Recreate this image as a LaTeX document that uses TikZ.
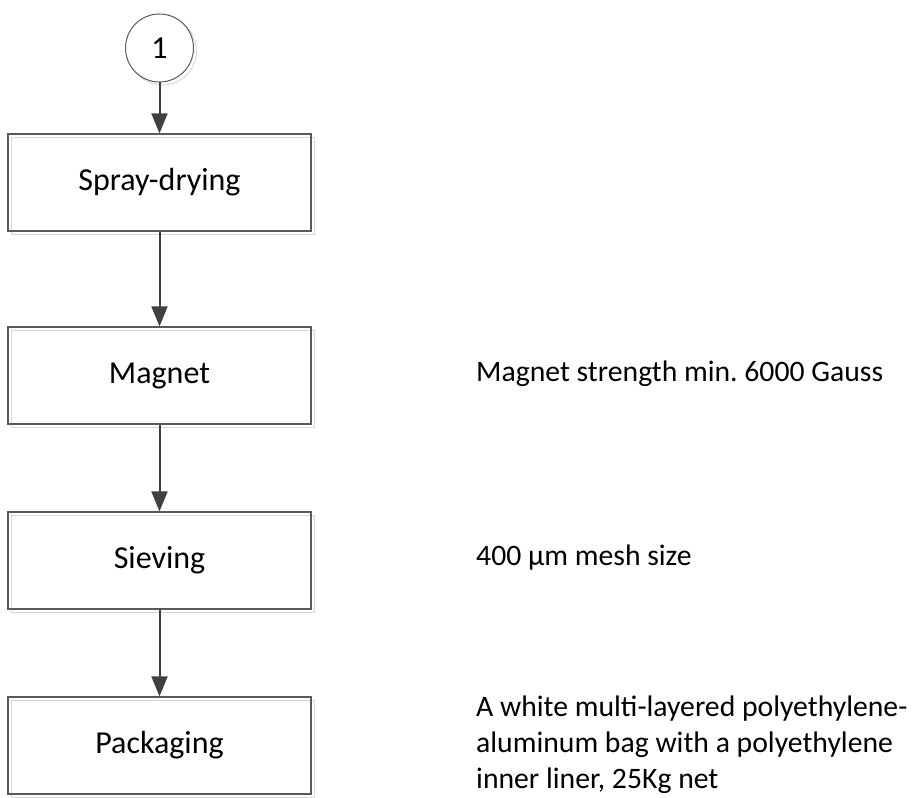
\documentclass[tikz,border=0pt]{standalone}
\usepackage{fontspec}
\setmainfont{Carlito}
\usetikzlibrary{arrows.meta}
\definecolor{linegray}{HTML}{404040}
\definecolor{boxgray}{HTML}{5A5A5A}
\definecolor{shadowgray}{HTML}{D9D9D9}
\tikzset{
  stepbox/.style={draw=boxgray, line width=1.2pt, minimum width=303pt, minimum height=97pt, inner sep=0pt, font=\fontsize{32}{38}\selectfont},
  shadowbox/.style={draw=shadowgray, line width=1pt, minimum width=303pt, minimum height=97pt, inner sep=0pt},
  conn/.style={draw=linegray, line width=2pt, -{Triangle[length=20pt,width=16pt]}},
  note/.style={anchor=base west, inner sep=0pt, font=\fontsize{29.7}{36}\selectfont, align=left},
}
\begin{document}
\frenchspacing
\begin{tikzpicture}[x=1pt,y=-1pt]
\useasboundingbox (0,0) rectangle (912,797);
% shadows
\draw[shadowgray, line width=1pt] (162.5,51) circle (34);
\node[shadowbox] at (162.5,185.5) {};
\node[shadowbox] at (162.5,378.5) {};
\node[shadowbox] at (162.5,563.5) {};
\node[shadowbox] at (162.5,748.5) {};
% nodes
\node[circle, draw=boxgray, line width=1pt, minimum size=68pt, inner sep=0pt, fill=white, font=\fontsize{32}{38}\selectfont] (c1) at (159.5,48) {1};
\node[stepbox] (s1) at (159.5,182.5) {Spray-drying};
\node[stepbox] (s2) at (159.5,375.5) {Magnet};
\node[stepbox] (s3) at (159.5,560.5) {Sieving};
\node[stepbox] (s4) at (159.5,745.5) {Packaging};
% notes
\node[note] (n2) at (476,381) {Magnet strength min. 6000 Gauss};
\node[note] (n3) at (476,565) {400 µm mesh size};
\node[note, anchor=north west] (n4) at (476,696) {A white multi-layered polyethylene-\\aluminum bag with a polyethylene\\inner liner, 25Kg net};
% connectors
\draw[conn] (c1) -- (s1);
\draw[conn] (s1) -- (s2);
\draw[conn] (s2) -- (s3);
\draw[conn] (s3) -- (s4);
\end{tikzpicture}
\end{document}
